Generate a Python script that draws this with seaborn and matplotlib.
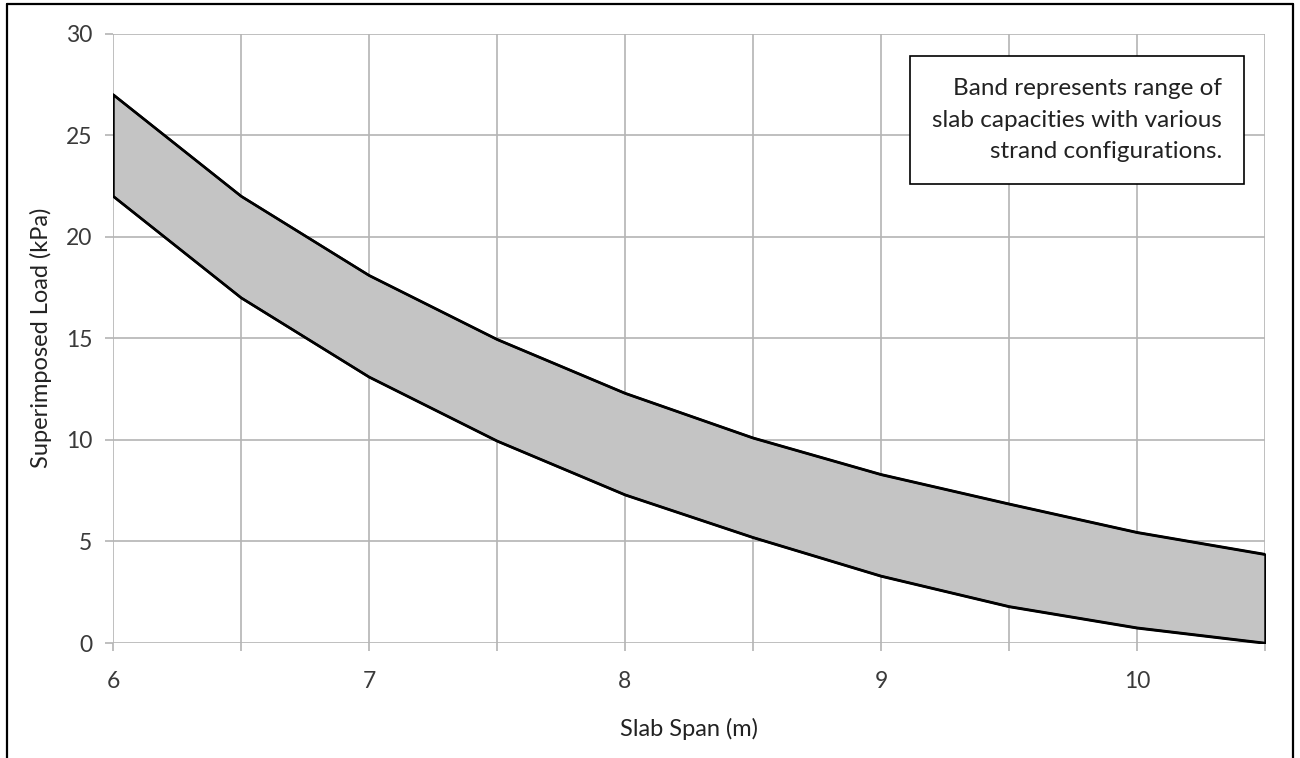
"""Superimposed load capacity band vs. slab span."""

import matplotlib

matplotlib.use("Agg")
import matplotlib.pyplot as plt
import pandas as pd
import seaborn as sns
from matplotlib.lines import Line2D
from matplotlib.ticker import FuncFormatter, MultipleLocator

# Values
span_m = [6.0, 6.5, 7.0, 7.5, 8.0, 8.5, 9.0, 9.5, 10.0, 10.5]
upper_kpa = [27.0, 22.0, 18.1, 14.95, 12.3, 10.1, 8.3, 6.85, 5.45, 4.37]
lower_kpa = [22.0, 17.0, 13.1, 9.95, 7.3, 5.2, 3.3, 1.8, 0.75, 0.0]
y_ticks = [0, 5, 10, 15, 20, 25, 30]
note = "Band represents range of\nslab capacities with various\nstrand configurations."

sns.set_style("white")
plt.rcParams["font.family"] = ["Lato", "DejaVu Sans"]

df = pd.DataFrame({"span": span_m, "upper": upper_kpa, "lower": lower_kpa})

fig = plt.figure(figsize=(13, 7.58), dpi=100)
ax = fig.add_axes([0.0869, 0.1517, 0.8862, 0.8041])

grid_c = "#b4b4b4"
text_c = "#3a3a3a"

# band, with its end edges drawn black
ax.fill_between(
    df["span"], df["lower"], df["upper"],
    facecolor="#c4c4c4", edgecolor="black", linewidth=1.8, zorder=2,
)
sns.lineplot(data=df, x="span", y="upper", color="black", linewidth=1.8, ax=ax, zorder=3)
sns.lineplot(data=df, x="span", y="lower", color="black", linewidth=1.8, ax=ax, zorder=3)

ax.set_xlim(6, 10.5)
ax.set_ylim(0, 30)
ax.xaxis.set_major_locator(MultipleLocator(0.5))
ax.xaxis.set_major_formatter(
    FuncFormatter(lambda v, _: f"{v:.0f}" if abs(v - round(v)) < 1e-6 else "")
)
ax.set_yticks(y_ticks)

ax.grid(True, color=grid_c, linewidth=1.2)
ax.set_axisbelow(True)
for s in ax.spines.values():
    s.set_visible(False)

ax.tick_params(axis="x", length=6, width=1.2, color=grid_c, pad=14,
               labelsize=16.5, labelcolor=text_c, direction="out", bottom=True)
ax.tick_params(axis="y", length=6, width=1.2, color=grid_c, pad=9,
               labelsize=16.5, labelcolor=text_c, direction="out", left=True)

ax.set_xlabel("Slab Span (m)", fontsize=17, color="#222222", labelpad=19)
ax.set_ylabel("Superimposed Load (kPa)", fontsize=17, color="#222222", labelpad=10)

ax.text(
    0.9627, 0.858, note, transform=ax.transAxes, ha="right", va="center",
    fontsize=17.5, color="#222222", linespacing=1.6, zorder=5,
    bbox=dict(boxstyle="square,pad=0.9", facecolor="white", edgecolor="black", linewidth=1.2),
)

# outer frame (left, top, right)
fw = 1.6
fig.add_artist(Line2D([7 / 1300, 7 / 1300], [0, 1 - 4 / 758], color="black", linewidth=fw))
fig.add_artist(Line2D([7 / 1300, 1293 / 1300], [1 - 4 / 758, 1 - 4 / 758], color="black", linewidth=fw))
fig.add_artist(Line2D([1293 / 1300, 1293 / 1300], [0, 1 - 4 / 758], color="black", linewidth=fw))

fig.savefig("out.png", dpi=100)
